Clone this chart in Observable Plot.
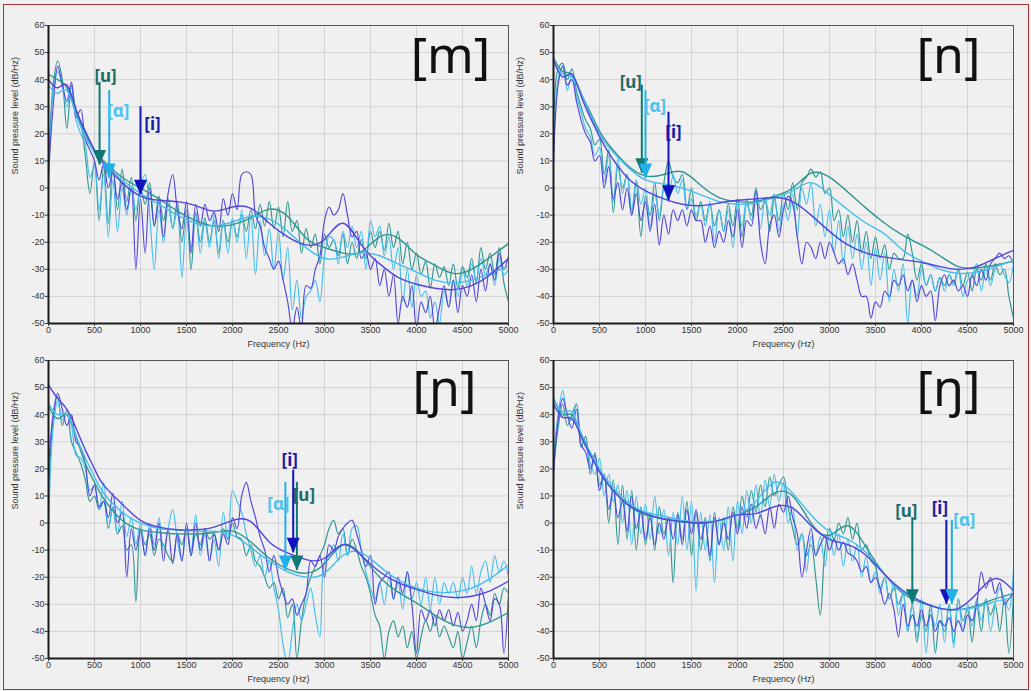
<!DOCTYPE html>
<html><head><meta charset="utf-8">
<script src="https://cdn.jsdelivr.net/npm/d3@7"></script>
<script src="https://cdn.jsdelivr.net/npm/@observablehq/plot@0.6"></script>
<style>
html,body{margin:0;padding:0;background:#f0f0f0;}
#wrap{position:relative;width:1031px;height:691px;background:#f0f0f0;overflow:hidden;}
#border{position:absolute;left:3px;top:4px;width:1026px;height:686px;border:1px solid #a83232;box-sizing:border-box;}
.panel{position:absolute;}
</style></head><body>
<div id="wrap"><div id="border"></div></div>
<script>
// ---------- shared axes ----------
const X_TICKS = [0,500,1000,1500,2000,2500,3000,3500,4000,4500,5000];
const Y_TICKS = [-50,-40,-30,-20,-10,0,10,20,30,40,50,60];
const FREQ = [0,50,100,150,200,250,300,350,400,450,500,550,600,650,700,750,800,850,900,950,1000,1050,1100,1150,1200,1250,1300,1350,1400,1450,1500,1550,1600,1650,1700,1750,1800,1850,1900,1950,2000,2050,2100,2150,2200,2250,2300,2350,2400,2450,2500,2550,2600,2650,2700,2750,2800,2850,2900,2950,3000,3050,3100,3150,3200,3250,3300,3350,3400,3450,3500,3550,3600,3650,3700,3750,3800,3850,3900,3950,4000,4050,4100,4150,4200,4250,4300,4350,4400,4450,4500,4550,4600,4650,4700,4750,4800,4850,4900,4950,5000];
const ENV_FREQ = [0,100,200,300,400,500,600,800,1000,1200,1400,1600,1800,2000,2200,2400,2600,2800,3000,3200,3400,3600,3800,4000,4200,4400,4600,4800,5000];
const VOWELS = ["[u]","[ɑ]","[i]"];

// ---------- [m] ----------
const M_U = [5,38,47,40,22,38,28,24,12,-2, 10,-12,8,-13,8,-8,7,-5,4,-12, 0,-6,2,-14,-3,-12,-4,-15,-5,-20, -8,-30,-9,-20,-11,-20,-12,-24,-12,-20, -12,-18,-10,-16,-8,-15,-6,-14,-5,-15, -7,-18,-5,-16,-12,-24,-15,-22,-17,-28, -17,-22,-19,-25,-17,-28,-20,-26,-19,-26, -16,-22,-16,-23,-13,-22,-16,-28,-20,-30, -24,-32,-27,-37,-28,-33,-29,-36,-28,-37, -29,-33,-26,-35,-22,-30,-24,-32,-22,-35, -42];
const M_A = [0,35,43,38,30,37,25,20,16,4, 8,-8,5,-18,3,-16,0,-10,0,-8, 1,5,-10,-30,-8,-20,-6,-15,-8,-33, -12,-22,-10,-24,-12,-22,-10,-26,-12,-24, -11,-20,-8,-26,-10,-32,-12,-25,-15,-30, -16,-34,-22,-45,-34,-48,-40,-38,-34,-42, -25,-18,-19,-28,-16,-22,-14,-22,-16,-30, -12,-18,-14,-25,-18,-30,-22,-42,-30,-44, -32,-40,-38,-48,-42,-50,-38,-44,-34,-40, -30,-36,-28,-34,-26,-32,-28,-36,-26,-32, -30];
const M_I = [5,30,45,38,32,39,26,29,18,14, 10,3,9,0,6,-4,2,-8,0,-30, -4,-24,0,-14,-5,-18,-2,5,-8,-15, -5,-24,-6,-14,-6,-12,-9,-16,-4,-10, -2,-8,5,6,5,-10,-14,-22,-26,-30, -27,-34,-42,-52,-44,-52,-36,-37,-30,-25, -12,-7,-10,-8,-2,-10,-18,-16,-26,-24, -30,-26,-36,-30,-40,-32,-50,-40,-44,-36, -52,-42,-46,-40,-52,-44,-36,-44,-34,-46, -36,-40,-32,-42,-30,-38,-28,-34,-24,-30, -25];
const M_U_ENV = [42,40,37,28,20,14,10,4,0,-4,-8.5,-12,-14,-13.5,-11,-7.8,-10.5,-18.5,-22,-24,-23.5,-18,-18.5,-24.5,-28.5,-31.5,-30,-25.5,-20.5];
const M_A_ENV = [38,35,36,27,19,13,9,3,-2,-6,-10,-13,-14,-12.5,-10.5,-11.5,-16,-22,-26,-25.5,-24,-25,-28,-31,-34,-35,-34,-31.5,-29];
const M_I_ENV = [40,37,38,29,21,14,9,2,-3,-4.5,-5,-6.5,-8.5,-7,-7.5,-13,-18,-21,-19,-13,-21,-28,-33,-35.5,-37,-37.5,-36,-32,-26];
const M_ARROW_F = [555,660,1000];
const M_ARROW_TOP = [39,36,30];
const M_ARROW_TIP = [8.5,3.5,-2.5];

// ---------- [n] ----------
const N_U = [20,44,46,40,44,36,30,25,22,16, 18,5,14,-9,8,0,5,-10,2,-18, -3,-10,2,-12,2,10,4,2,5,-8, 0,-12,-5,-12,-6,-14,-8,-16,-6,-14, -4,-18,-6,-10,0,-8,-5,-16,-4,-12, -2,-8,2,-8,2,4,7,4,6,-2, 0,-12,-8,-18,-10,-20,-12,-24,-16,-26, -18,-26,-21,-30,-24,-26,-26,-17,-24,-34, -28,-36,-32,-38,-33,-36,-32,-35,-30,-36, -31,-38,-30,-34,-28,-34,-28,-32,-30,-40, -48];
const N_A = [15,40,45,36,42,34,28,22,19,12, 15,2,12,-5,11,-2,5,-8,3,-6, 0,-15,-2,-10,0,-5,5,-2,3,-8, -4,-10,-6,-14,-5,-20,-8,-16,-8,-22, -6,-14,-4,-12,-4,-15,-4,-10,-2,-16, -6,-12,-2,-18,0,-6,2,-14,-6,-18, -8,-24,-12,-28,-14,-26,-17,-30,-20,-36, -22,-34,-24,-42,-30,-38,-28,-50,-34,-40, -30,-36,-32,-38,-33,-38,-32,-36,-30,-40, -34,-33,-28,-38,-30,-36,-30,-28,-32,-35, -28];
const N_I = [10,38,45,38,40,32,25,20,17,10, 12,0,8,-4,2,-8,0,-10,-2,-12, -5,-16,-6,-21,-10,-17,-8,-12,-8,-14, -8,-12,-12,-20,-14,-22,-16,-20,-12,-18, -8,-22,-12,-14,-1,-20,-28,-14,-10,-18, -8,-3,-6,-18,-28,-20,-22,-26,-20,-26, -20,-24,-28,-26,-32,-28,-34,-40,-40,-48, -42,-44,-38,-40,-34,-36,-32,-38,-34,-42, -36,-40,-38,-49,-36,-32,-36,-34,-38,-36, -40,-32,-36,-30,-34,-28,-26,-24,-26,-25, -28];
const N_U_ENV = [48,43,42,35,28,21,16,8.5,4.5,5,6,1,-3.5,-5,-5,-3,0,5.5,4,-1.5,-7.5,-13,-17.5,-21,-25,-29,-29.5,-28.5,-27];
const N_A_ENV = [47,42,41,35,27,20,15,8,3,1.5,0,-2.5,-5,-6,-5.5,-3.5,-1,2,-2.5,-8,-13,-17,-23,-27,-30,-31.5,-31,-29,-27];
const N_I_ENV = [47,41,42,34,26,19,13,4,-1,-4,-6,-6.5,-5.5,-4.5,-4,-3.5,-5,-10,-16,-21,-24,-25.5,-26.5,-27.5,-29,-30,-29,-26,-23];
const N_ARROW_F = [960,1000,1250];
const N_ARROW_TOP = [38,36,28];
const N_ARROW_TIP = [5.5,3.5,-4.5];

// ---------- [ɲ] ----------
const P_U = [10,38,47,36,42,30,26,22,16,8, 10,5,8,-2,6,-4,-1,-10,-8,-29, -2,-8,-4,-12,-6,-8,-12,-14,-4,-8, -2,-12,-4,-8,-2,-6,-4,-10,-2,-6, 0,-5,-6,-12,-8,-14,-16,-20,-24,-22, -28,-24,-35,-30,-50,-36,-26,-20,-16,-12, -8,-2,1,-4,-2,-12,-6,-10,-16,-20, -26,-34,-38,-50,-40,-36,-42,-38,-46,-40, -50,-42,-36,-40,-34,-42,-38,-42,-46,-40, -50,-44,-38,-46,-36,-30,-34,-26,-30,-24, -26];
const P_A = [-2,35,45,38,40,36,25,24,20,12, 14,5,15,-2,6,-4,8,-5,2,-8, 0,-12,0,-8,2,-10,-2,5,-6,-14, -2,-10,3,-12,-4,-14,-6,-16,4,-6, 12,8,4,-4,-10,-16,-12,-20,-14,-24, -32,-45,-52,-40,-30,-36,-30,-24,-34,-42, -14,-12,-8,-14,-4,-12,-2,-1,-10,-18, -24,-28,-22,-30,-20,-28,-22,-32,-18,-28, -22,-30,-20,-32,-20,-30,-22,-26,-22,-28, -20,-26,-16,-26,-18,-14,-22,-12,-18,-14, -20];
const P_I = [20,40,48,42,36,40,30,28,22,10, 14,6,8,2,11,0,4,-20,-2,-10, -3,-12,-2,-10,0,-14,-2,-15,-4,-14, 0,-12,0,-10,-2,-14,-4,-10,-4,-8, 2,-2,10,15,8,2,-5,-10,-18,-12, -20,-26,-30,-28,-34,-30,-26,-14,-16,-12, -20,-8,-10,-5,-2,0,1,-4,-10,-16, -12,-30,-22,-20,-18,-28,-20,-26,-18,-30, -48,-32,-36,-32,-38,-32,-36,-32,-38,-33, -40,-36,-30,-36,-24,-30,-36,-28,-30,-48, -26];
const P_U_ENV = [43,38.5,40,32,22,15,9,1,-2.5,-3.5,-4,-4,-3.5,-3,-7,-13,-17,-18.5,-15,-8,-12,-20,-25.5,-29.5,-34,-37.5,-38.5,-36.5,-33];
const P_A_ENV = [44,40,40,32,24,17,11,4,0,-2,-2.5,-3,-3,-4.5,-9,-14,-18,-20,-18.5,-12,-11,-16,-21,-24,-25.5,-25.5,-24,-20.5,-15.5];
const P_I_ENV = [51,46,42,35,27,20,14,7,1,-1.5,-2.5,-2.5,-1.5,1,0.5,-7,-11,-13.5,-13,-8,-12,-18,-22,-24.5,-26.5,-27.5,-27,-25,-21.5];
const P_ARROW_F = [2700,2575,2660];
const P_ARROW_TOP = [15,15,19.5];
const P_ARROW_TIP = [-17.5,-17.5,-11];

// ---------- [ŋ] ----------
const G_U = [20,35,44,36,40,44,28,32,18,26, 14,18,0,16,-8,14,-6,12,-10,6, -8,4,-10,6,-4,2,-22,4,-6,8, -12,4,-10,2,-14,4,-8,2,-10,6, -2,10,2,12,4,14,6,17,10,14, 17,6,-2,-8,-4,-12,-8,-20,-34,-10, -2,-6,0,-4,2,-6,0,-10,-8,-14, -16,-24,-20,-28,-24,-30,-26,-40,-30,-44, -34,-40,-30,-48,-36,-40,-30,-44,-28,-36, -32,-44,-30,-40,-28,-34,-30,-40,-28,-48, -26];
const G_A = [24,40,49,40,38,44,32,30,22,18, 24,10,18,8,14,0,12,-8,10,-4, 7,-6,10,-4,5,-12,4,-8,10,-10, 8,-25,4,-10,3,-22,2,-10,6,-14, 8,-4,12,0,14,2,16,6,18,8, 15,0,6,-10,-4,-18,-5,-12,-5,-16, -4,-12,-4,-16,-6,-14,-8,-20,-12,-22, -18,-26,-20,-28,-22,-34,-26,-40,-30,-42, -28,-48,-32,-38,-30,-44,-30,-46,-28,-40, -30,-38,-28,-36,-28,-40,-30,-24,-28,-32, -17];
const G_I = [18,38,46,40,35,42,29,26,20,25, 12,18,5,12,2,8,-3,10,-2,4, -6,2,-8,0,-6,2,-6,3,-8,5, -4,5,-6,0,-12,2,-8,0,-6,4, -4,6,-2,7,-2,3,-4,6,-2,7, 4,10,2,-4,-20,-10,-2,-12,-8,-5, -10,-6,-10,-7,-11,-12,-14,-18,-16,-22, -20,-24,-30,-26,-32,-42,-30,-38,-34,-38, -32,-38,-34,-40,-36,-38,-35,-40,-36,-40, -34,-36,-30,-18,-24,-20,-26,-22,-30,-28, -26];
const G_U_ENV = [46,40,40,33,26,19,14,7,3,1.5,0.5,0,1,3,6,11,10,0,-4.5,-1,-9,-19,-26,-29.5,-31.5,-32,-30.5,-28,-26];
const G_A_ENV = [46,41,41,33,26,20,15,8,4,2.5,1,0.5,1,3,8,15,11,3,-3,-6,-11,-19,-25.5,-29,-31.5,-32,-31,-29,-27.5];
const G_I_ENV = [44,39,38.5,32,25,19,14,7,3.5,1.5,0.5,0,1,3,3.5,6,5.5,-1,-6,-8,-12,-19,-25,-29,-31.5,-31.5,-26,-20.5,-25];
const G_ARROW_F = [3900,4330,4270];
const G_ARROW_TOP = [2,1,1];
const G_ARROW_TIP = [-30,-30,-30];

// ---------- styles ----------
const LINE_COL = ["#2e968f", "#45bdee", "#5246dc"];
const ARROW_COL = ["#0f7a75", "#22aee8", "#1212bf"];
const LABEL_COL = ["#1d6b69", "#4cc3ee", "#1a1aa8"];
const TRI_DOWN = {draw(ctx) { ctx.moveTo(-6.5, -15); ctx.lineTo(6.5, -15); ctx.lineTo(0, 0); ctx.closePath(); }};

function series(xs, ys) { return ys.map((y, k) => ({f: xs[k], db: y})); }

function makePanel(cfg) {
  const marks = [
    Plot.gridX(X_TICKS, {stroke: "#d2d2d2", strokeOpacity: 1}),
    Plot.gridY(Y_TICKS, {stroke: "#d2d2d2", strokeOpacity: 1})
  ];
  cfg.noisy.forEach((ys, k) => marks.push(Plot.line(series(FREQ, ys), {x: "f", y: "db", stroke: LINE_COL[k], strokeWidth: 1.15, curve: "catmull-rom", clip: true})));
  cfg.env.forEach((ys, k) => marks.push(Plot.line(series(ENV_FREQ, ys), {x: "f", y: "db", stroke: LINE_COL[k], strokeWidth: 1.4, curve: "natural", clip: true})));
  marks.push(
    Plot.frame({stroke: "#555", strokeWidth: 1}),
    Plot.ruleX([0], {stroke: "#1a1a1a", strokeWidth: 2}),
    Plot.ruleY([-50], {stroke: "#1a1a1a", strokeWidth: 2}),
    Plot.axisX(X_TICKS, {tickSize: 3, tickPadding: 0, tickFormat: d => String(d), label: null, fontSize: 9}),
    Plot.axisY(Y_TICKS, {tickSize: 3, tickPadding: 1, tickFormat: d => String(d), label: null, fontSize: 9}),
    Plot.text(["Frequency (Hz)"], {frameAnchor: "bottom", lineAnchor: "middle", dy: 21, fontSize: 9, fill: "#333"}),
    Plot.text(["Sound pressure level (dB/Hz)"], {frameAnchor: "left", dx: -33, rotate: -90, fontSize: 9, fill: "#333"}),
    Plot.text([cfg.title], {frameAnchor: "top-right", dx: cfg.titleDx, dy: cfg.titleDy, fontSize: 50, fontFamily: "Noto Sans", fill: "#111", textAnchor: "middle", lineAnchor: "middle"})
  );
  cfg.order.forEach(k => {
    const a = [{f: cfg.af[k], top: cfg.atop[k], tip: cfg.atip[k]}];
    marks.push(
      Plot.ruleX(a, {x: "f", y1: "top", y2: "tip", stroke: ARROW_COL[k], strokeWidth: 2}),
      Plot.dot(a, {x: "f", y: "tip", symbol: TRI_DOWN, fill: ARROW_COL[k], stroke: "none", r: 5}),
      Plot.text(a, {x: "f", y: "top", text: () => VOWELS[k], dx: cfg.ldx[k], dy: cfg.ldy[k], fontSize: 17, fontWeight: "bold", fontFamily: "Noto Sans", fill: LABEL_COL[k]})
    );
  });
  const svg = Plot.plot({
    width: 525, height: 345,
    marginLeft: 48, marginRight: 17, marginTop: 20, marginBottom: 27,
    style: {background: "none", fontFamily: "'Liberation Sans', Arial, sans-serif", fontSize: "9px", color: "#333", overflow: "visible"},
    x: {domain: [0, 5000]},
    y: {domain: [-50, 60]},
    marks
  });
  svg.classList.add("panel");
  svg.style.left = cfg.left + "px";
  svg.style.top = cfg.top + "px";
  document.getElementById("wrap").appendChild(svg);
}

makePanel({left: 0, top: 5, title: "[m]", titleDx: -58, titleDy: 31,
  noisy: [M_U, M_A, M_I], env: [M_U_ENV, M_A_ENV, M_I_ENV],
  af: M_ARROW_F, atop: M_ARROW_TOP, atip: M_ARROW_TIP, order: [0,1,2],
  ldx: [6, 9, 12], ldy: [-5.5, 21.5, 18]});
makePanel({left: 505, top: 5, title: "[n]", titleDx: -65, titleDy: 31,
  noisy: [N_U, N_A, N_I], env: [N_U_ENV, N_A_ENV, N_I_ENV],
  af: N_ARROW_F, atop: N_ARROW_TOP, atip: N_ARROW_TIP, order: [0,1,2],
  ldx: [-11, 9.5, 5], ldy: [-2.6, 16.5, 20]});
makePanel({left: 0, top: 340, title: "[ɲ]", titleDx: -64, titleDy: 29,
  noisy: [P_U, P_A, P_I], env: [P_U_ENV, P_A_ENV, P_I_ENV],
  af: P_ARROW_F, atop: P_ARROW_TOP, atip: P_ARROW_TIP, order: [1,0,2],
  ldx: [7, -7, -3.5], ldy: [13.5, 22, -10]});
makePanel({left: 505, top: 340, title: "[ŋ]", titleDx: -65, titleDy: 29,
  noisy: [G_U, G_A, G_I], env: [G_U_ENV, G_A_ENV, G_I_ENV],
  af: G_ARROW_F, atop: G_ARROW_TOP, atip: G_ARROW_TIP, order: [0,2,1],
  ldx: [-6, 12.5, -6.5], ldy: [-6, 0, -11.5]});
</script>
</body></html>
